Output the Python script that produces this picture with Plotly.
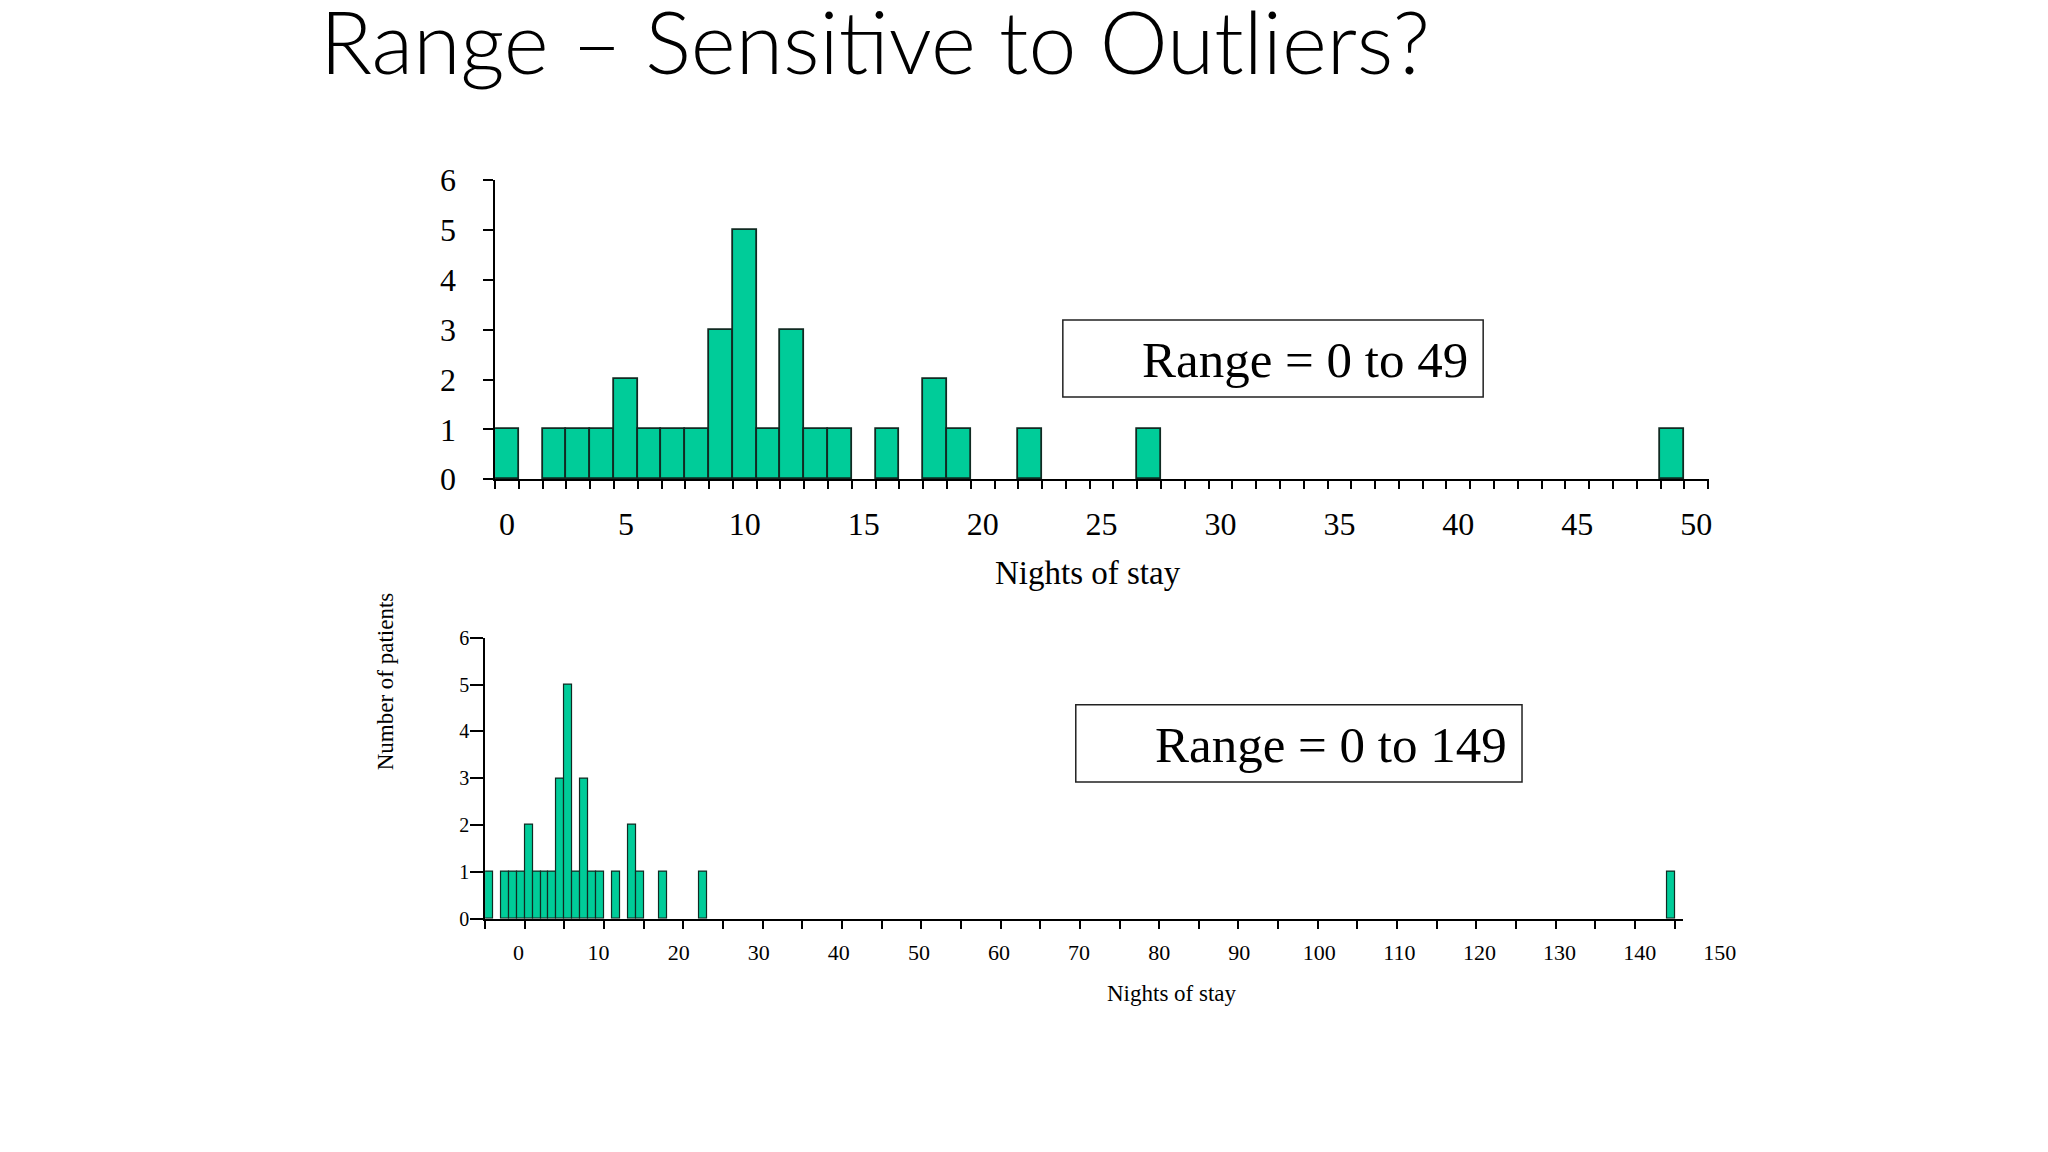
import plotly.graph_objects as go

# nights of stay and number of patients (same 30 patients, outlier moved)
nights_short = [0, 2, 3, 4, 5, 6, 7, 8, 9, 10, 11, 12, 13, 14, 16, 18, 19, 22, 27, 49]
nights_long = [0, 2, 3, 4, 5, 6, 7, 8, 9, 10, 11, 12, 13, 14, 16, 18, 19, 22, 27, 149]
patients = [1, 1, 1, 1, 2, 1, 1, 1, 3, 5, 1, 3, 1, 1, 1, 2, 1, 1, 1, 1]

title = "Range – Sensitive to Outliers?"
box_short = "Range = 0 to 49"
box_long = "Range = 0 to 149"
x_title = "Nights of stay"
y_title = "Number of patients"

W, H = 2032, 1136
SERIF = "Liberation Serif, Times New Roman, serif"
BAR = "#00CC99"


# slide pixel -> paper fraction (offsets tuned against the rendered page)
def px(x):
    return (x - 3) / W


def py(y):
    return 1 - (y - 26.8) / 1097.4


fig = go.Figure()
fig.add_trace(go.Bar(x=nights_short, y=patients, width=1, xaxis="x", yaxis="y",
                     marker=dict(color=BAR, line=dict(color="#112a22", width=1.8))))
fig.add_trace(go.Bar(x=nights_long, y=patients, width=1, xaxis="x2", yaxis="y2",
                     marker=dict(color=BAR, line=dict(color="#112a22", width=1.2))))
# empty trace so the label axis of the lower chart gets drawn
fig.add_trace(go.Scatter(x=[], y=[], xaxis="x3", yaxis="y2", hoverinfo="skip"))

axis_common = dict(showgrid=False, zeroline=False, showline=True, linecolor="black",
                   linewidth=1.5, fixedrange=True)

fig.update_layout(
    width=W, height=H, margin=dict(l=0, r=0, t=0, b=0),
    paper_bgcolor="white", plot_bgcolor="rgba(0,0,0,0)", showlegend=False, bargap=0,
    xaxis=dict(axis_common, domain=[px(492), px(1711)], range=[-0.5, 50.55], anchor="y",
               tick0=0, dtick=5, ticks="", ticklabelstandoff=16,
               tickfont=dict(family=SERIF, size=32, color="black"),
               minor=dict(ticks="outside", tick0=-0.5, dtick=1, ticklen=8,
                          tickwidth=1.5, tickcolor="black")),
    yaxis=dict(axis_common, domain=[py(479), py(180.5)], range=[0, 6], anchor="x",
               dtick=1, ticks="outside", ticklen=10, tickwidth=1.5, tickcolor="black",
               ticklabelstandoff=21,
               tickfont=dict(family=SERIF, size=32, color="black")),
    xaxis2=dict(axis_common, domain=[px(482), px(1685)], range=[-0.5, 150.6], anchor="y2",
                showticklabels=False, ticks="",
                minor=dict(ticks="outside", tick0=-0.5, dtick=5, ticklen=8,
                           tickwidth=1.5, tickcolor="black")),
    xaxis3=dict(domain=[px(483), px(1730)], range=[-4.04, 151.06], anchor="y2",
                showgrid=False, zeroline=False, showline=False, ticks="",
                tick0=0, dtick=10, ticklabelstandoff=18, fixedrange=True,
                tickfont=dict(family=SERIF, size=22, color="black")),
    yaxis2=dict(axis_common, domain=[py(917.5), py(637)], range=[0, 6], anchor="x2",
                dtick=1, ticks="outside", ticklen=13, tickwidth=1.5, tickcolor="black",
                ticklabelstandoff=-3,
                tickfont=dict(family=SERIF, size=20, color="black")),
)

fig.add_shape(type="rect", xref="paper", yref="paper",
              x0=px(1062), x1=px(1484), y0=py(397), y1=py(320),
              line=dict(color="#222222", width=1.5), fillcolor="white")
fig.add_shape(type="rect", xref="paper", yref="paper",
              x0=px(1075), x1=px(1523), y0=py(781), y1=py(704),
              line=dict(color="#222222", width=1.5), fillcolor="white")

texts = [
    (title, 314, 41.5, "Lato, Open Sans, sans-serif", 86, "left", 0, 300),
    (box_short, 1305, 360, SERIF, 51, "center", 0, 400),
    (box_long, 1331, 744, SERIF, 51, "center", 0, 400),
    (x_title, 1087, 573, SERIF, 33, "center", 0, 400),
    (x_title, 1172, 992, SERIF, 23, "center", 0, 400),
    (y_title, 382, 681, SERIF, 23, "center", -90, 400),
]
for txt, x, y, fam, size, anchor, angle, weight in texts:
    fig.add_annotation(text=txt, xref="paper", yref="paper", x=px(x), y=py(y),
                       xanchor=anchor, yanchor="middle", showarrow=False, textangle=angle,
                       font=dict(family=fam, size=size, color="black", weight=weight))

fig.write_html("out.html")
